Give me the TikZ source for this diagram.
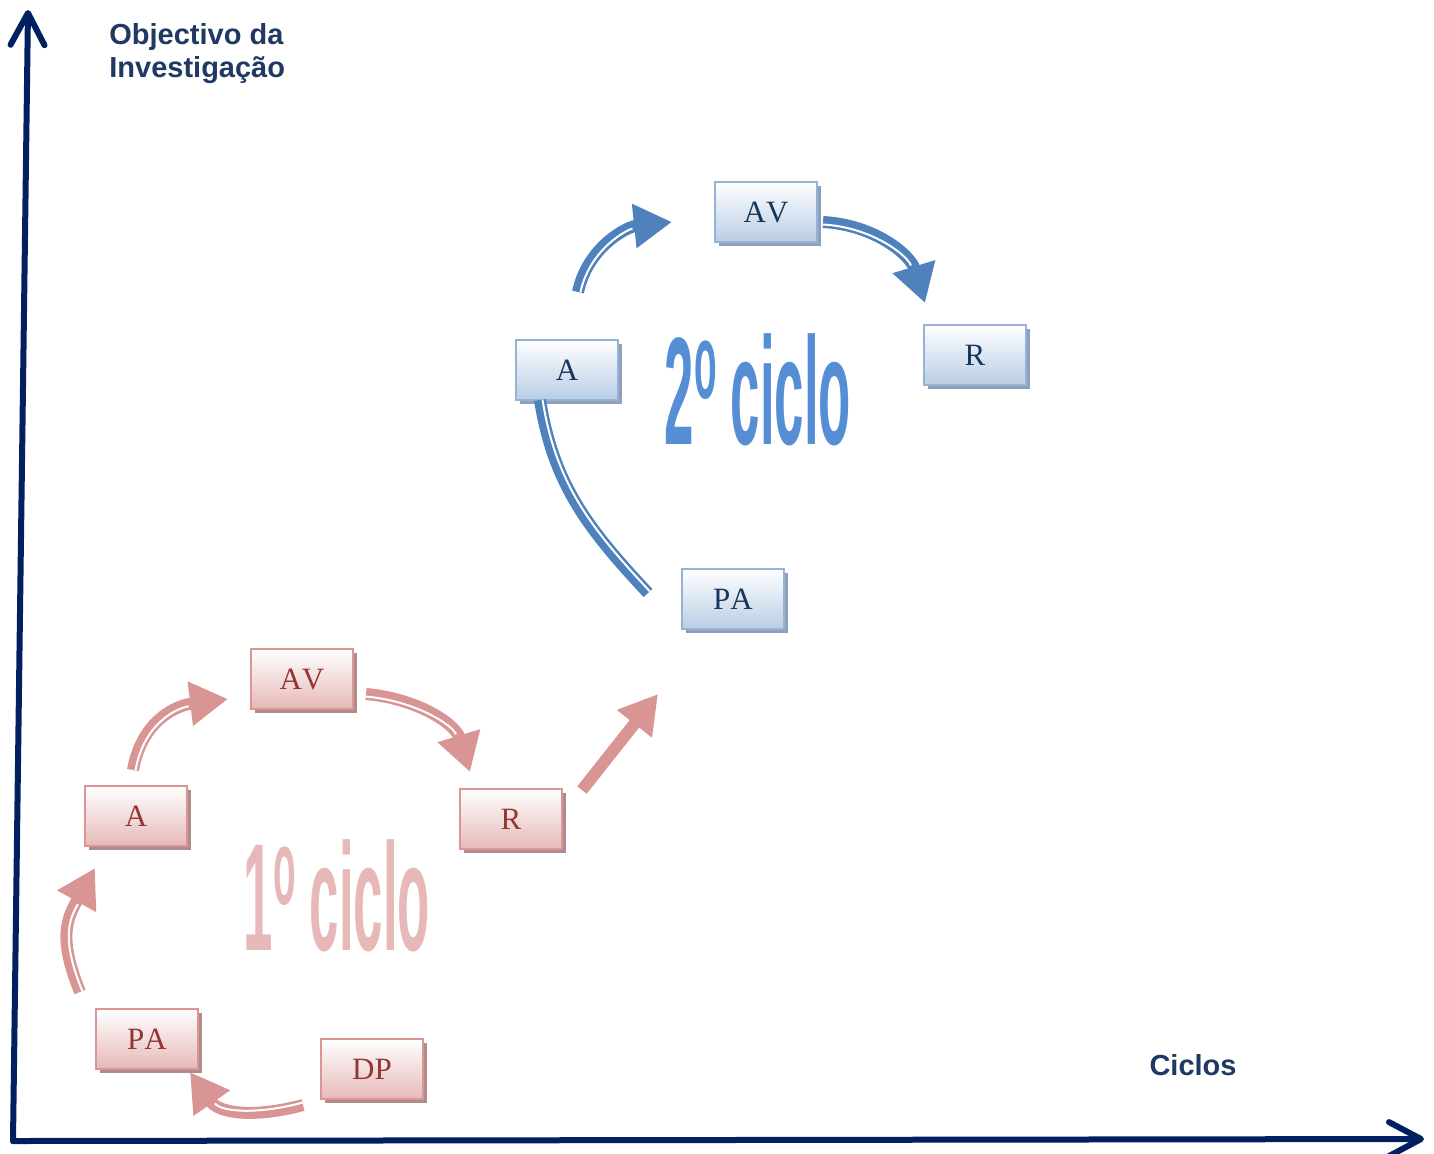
\documentclass[tikz,border=0pt]{standalone}
\usepackage{fontspec}
\setmainfont{Liberation Serif}[Kerning=Off]
\newfontfamily\labfont{Liberation Sans}
\usepackage{tikz}
\usetikzlibrary{arrows.meta, calc, shadows}
\definecolor{navy}{HTML}{002060}
\definecolor{labcol}{HTML}{1F3864}
\definecolor{pinkborder}{HTML}{D99694}
\definecolor{pinkfill}{HTML}{E6B9B8}
\definecolor{pinkshadow}{HTML}{B08B8B}
\definecolor{pinktext}{HTML}{943634}
\definecolor{pinkline}{HTML}{D99594}
\definecolor{pinktitle}{HTML}{E6B9B8}
\definecolor{blueborder}{HTML}{95B3D7}
\definecolor{bluefill}{HTML}{B9CDE5}
\definecolor{blueshadow}{HTML}{8EA1B9}
\definecolor{bluetext}{HTML}{17365D}
\definecolor{blueline}{HTML}{4F81BD}
\definecolor{bluetitle}{HTML}{558ED5}
\tikzset{cyclebox/.style={rectangle, minimum width=51pt, minimum height=30pt, line width=1pt, inner sep=0pt, font=\fontsize{15.5}{18}\selectfont},
	pinkbox/.style={cyclebox, draw=pinkborder, top color=white, bottom color=pinkfill, text=pinktext,
		general shadow={fill=pinkshadow, shadow xshift=2pt, shadow yshift=-2pt}},
	bluebox/.style={cyclebox, draw=blueborder, top color=white, bottom color=bluefill, text=bluetext,
		general shadow={fill=blueshadow, shadow xshift=2pt, shadow yshift=-2pt}},
	level distance=1.2cm}

\begin{document}
\begin{tikzpicture}[x=0.5pt, y=0.5pt,
	axis/.style={navy, line width=3pt, line cap=round, -{Straight Barb[length=16pt, width=17pt, round]}},
	axislabel/.style={labcol, inner sep=0pt, font=\labfont\bfseries\fontsize{14.5}{16.5}\selectfont},
	pinkarrow/.style={pinkline, line width=6pt, -{Triangle[length=19pt, width=21pt]}},
	bluearrow/.style={blueline, line width=6pt, -{Triangle[length=19pt, width=21pt]}},
	stripe/.style={white, line width=1pt, shorten >=20pt},
	title/.style={inner sep=0pt, font=\labfont\bfseries\fontsize{30}{30}\selectfont}]
	\useasboundingbox (0,0) rectangle (1434,-1153);

	\coordinate (o) at (13,-1141);
	\coordinate (ytop) at (28,-10);
	\coordinate (xend) at (1424,-1139);
	\draw[axis] (o) -- (ytop);
	\draw[axis] (o) -- (xend);
	\node[axislabel, anchor=north west, align=left] (ylab) at (109,-23) {Objectivo da\\Investigação};
	\node[axislabel, anchor=base] (xlab) at (1193,-1075) {Ciclos};

	\node[pinkbox] (a1) at (136,-816) {A};
	\node[pinkbox] (av1) at (302,-679) {AV};
	\node[pinkbox] (r1) at (511,-819) {R};
	\node[pinkbox] (pa1) at (147,-1039) {PA};
	\node[pinkbox] (dp1) at (372,-1069) {DP};
	\node[title, text=pinktitle] (t1) at (337,-896) {\scalebox{0.88}[2.55]{1\textsuperscript{o}\hspace{0.25em}ciclo}};

	\node[bluebox] (a2) at (567,-370) {A};
	\node[bluebox] (av2) at (766,-212) {AV};
	\node[bluebox] (r2) at (975,-355) {R};
	\node[bluebox] (pa2) at (733,-599) {PA};
	\node[title, text=bluetitle] (t2) at (758,-390) {\scalebox{0.88}[2.55]{2\textsuperscript{o}\hspace{0.25em}ciclo}};

	\coordinate (s1) at ($(a1.north)+(-3,15)$);
	\coordinate (e1) at ($(av1.west)+(-22,-20)$);
	\coordinate (s2) at ($(av1.east)+(12,-15)$);
	\coordinate (e2) at ($(r1.north)+(-41,16)$);
	\coordinate (s3) at ($(pa1.north west)+(-15,16)$);
	\coordinate (e3) at ($(a1.south west)+(11,-21)$);
	\coordinate (s4) at ($(dp1.south west)+(-17,-5)$);
	\coordinate (e4) at ($(pa1.south east)+(-9,-2)$);
	\coordinate (s5) at ($(r1.north east)+(19,-2)$);
	\coordinate (e5) at ($(pa2.south west)+(-23,-64)$);

	\draw[pinkarrow] (s1) to[out=80, in=187, looseness=1.1] (e1);
	\draw[stripe] ($(s1)+(2.5,-0.4)$) to[out=80, in=187, looseness=1.1] ($(e1)+(0.3,-2.5)$);
	\draw[pinkarrow] (s2) to[out=-5, in=107] (e2);
	\draw[stripe] ($(s2)+(-0.2,-2.5)$) to[out=-5, in=107] ($(e2)+(-2.4,-0.7)$);
	\draw[pinkarrow] (s3) to[out=112, in=241, looseness=1.2] (e3);
	\draw[stripe] ($(s3)+(2.3,0.9)$) to[out=112, in=241, looseness=1.2] ($(e3)+(2.2,-1.2)$);
	\draw[pinkarrow] (s4) to[out=195, in=305, looseness=1.1] (e4);
	\draw[stripe] ($(s4)+(-0.6,2.4)$) to[out=195, in=305, looseness=1.1] ($(e4)+(2,1.4)$);
	\draw[pinkarrow] (s5) -- (e5);

	\coordinate (s6) at ($(a2.north)+(11,47)$);
	\coordinate (e6) at ($(av2.west)+(-42,-10)$);
	\coordinate (s7) at ($(av2.east)+(5,-10)$);
	\coordinate (e7) at ($(r2.north)+(-50,21)$);
	\coordinate (s8) at ($(pa2.west)+(-33,6)$);
	\coordinate (e8) at ($(a2.south)+(-27,1)$);

	\draw[bluearrow] (s6) to[out=78, in=186] (e6);
	\draw[stripe] ($(s6)+(2.4,-0.5)$) to[out=78, in=186] ($(e6)+(0.3,-2.5)$);
	\draw[bluearrow] (s7) to[out=-3, in=107] (e7);
	\draw[stripe] ($(s7)+(-0.1,-2.5)$) to[out=-3, in=107] ($(e7)+(-2.4,-0.7)$);
	\draw[blueline, line width=6pt] (s8) to[out=133, in=279] (e8);
	\draw[stripe, shorten >=0pt] ($(s8)+(1.8,1.7)$) to[out=133, in=279] ($(e8)+(2.5,0.4)$);
\end{tikzpicture}
\end{document}
